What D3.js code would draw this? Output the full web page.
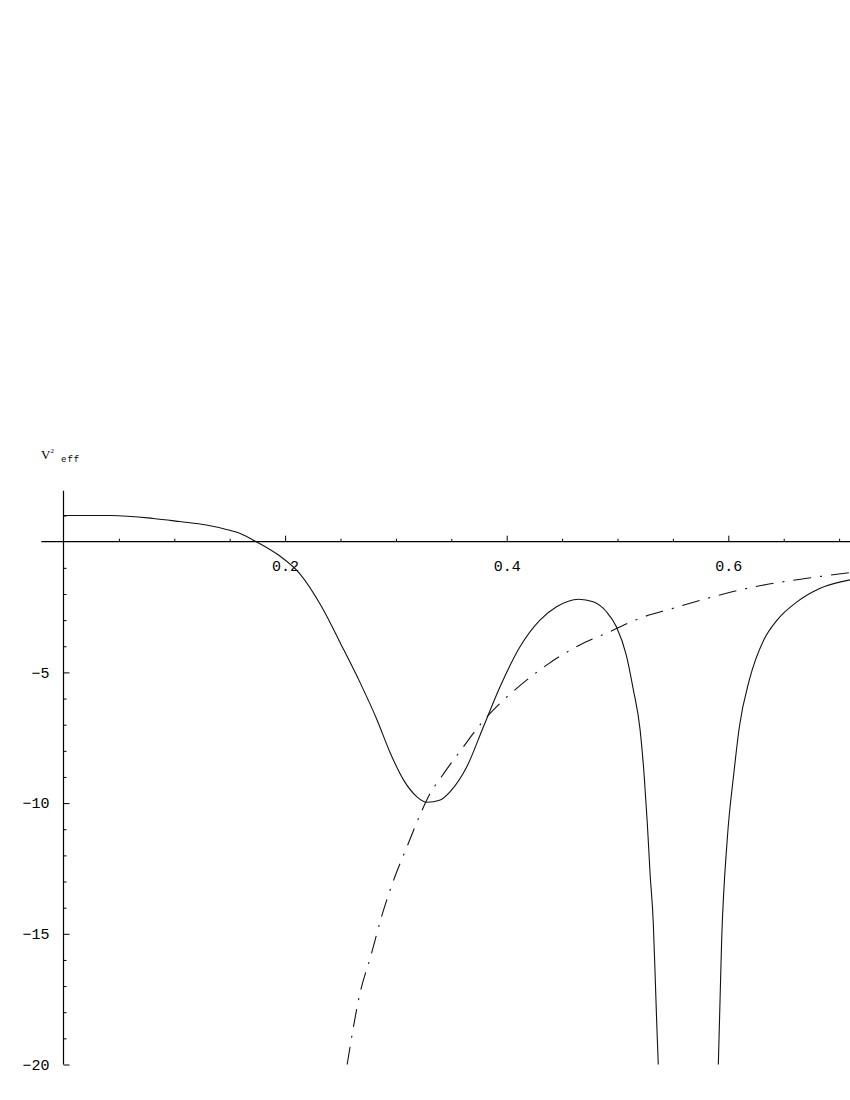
<!DOCTYPE html>
<html>
<head>
<meta charset="utf-8">
<script src="https://cdn.jsdelivr.net/npm/d3@7"></script>
<style>
  body { margin: 0; background: #fff; }
  .tick text { font-family: "Liberation Mono", "DejaVu Sans Mono", monospace; font-size: 15px; fill: #000; }
  .tick line { stroke: #000; }
  .curve { fill: none; stroke: #111; stroke-width: 1.1; }
</style>
</head>
<body>
<svg id="chart" width="850" height="1100"></svg>
<script>
// solid curve, left branch (runs down to the bottom of the frame)
var solidLeftX = [0, 0.043, 0.081, 0.105, 0.129, 0.147, 0.159, 0.174, 0.194, 0.213, 0.233, 0.250,
  0.268, 0.283, 0.295, 0.307, 0.319, 0.328, 0.340, 0.349, 0.364, 0.379, 0.394, 0.412, 0.430,
  0.445, 0.465, 0.478, 0.490, 0.499, 0.508, 0.514, 0.5204, 0.524, 0.5269, 0.5294, 0.5323,
  0.5339, 0.5354, 0.5368];
var solidLeftV = [1.0, 1.0, 0.89, 0.77, 0.64, 0.47, 0.32, 0.0, -0.51, -1.21, -2.49, -3.89,
  -5.42, -6.82, -8.09, -9.12, -9.76, -9.97, -9.88, -9.56, -8.61, -7.08, -5.55, -4.02, -3.00,
  -2.49, -2.20, -2.30, -2.68, -3.25, -4.35, -5.6, -7.2, -8.9, -10.77, -12.69, -14.6,
  -16.5, -18.4, -20];

// solid curve, right branch
var solidRightX = [0.591, 0.594, 0.599, 0.605, 0.610, 0.619, 0.632, 0.644, 0.662, 0.683, 0.710];
var solidRightV = [-20, -15.24, -11.41, -8.86, -7.08, -5.29, -3.76, -3.00, -2.30, -1.78, -1.46];

// dash-dot curve
var dashX = [0.256, 0.268, 0.277, 0.287, 0.298, 0.310, 0.323, 0.330, 0.341, 0.361, 0.377, 0.394,
  0.409, 0.436, 0.466, 0.490, 0.520, 0.550, 0.580, 0.610, 0.641, 0.671, 0.710];
var dashV = [-20, -17.2, -15.9, -14.35, -12.94, -11.67, -10.33, -9.7, -9.0, -7.84, -6.95, -6.18,
  -5.61, -4.72, -3.95, -3.50, -2.93, -2.55, -2.18, -1.85, -1.59, -1.40, -1.18];

// tick values
var xMajor = [0.2, 0.4, 0.6];
var xMinor = [0.05, 0.1, 0.15, 0.25, 0.3, 0.35, 0.45, 0.5, 0.55, 0.65, 0.7];
var yMajor = [-5, -10, -15, -20];
var yMinor = [1, -1, -2, -3, -4, -6, -7, -8, -9, -11, -12, -13, -14, -16, -17, -18, -19];

var svg = d3.select("#chart");

var x = d3.scaleLinear().domain([0, 0.7]).range([63.5, 839.1]);
var y = d3.scaleLinear().domain([-20, 0]).range([1064.5, 541.7]);

function zip(xs, vs){
  return xs.map(function(d, i){ return {x: d, v: vs[i]}; });
}

//Axis lines
svg.append("line")
  .attr("x1", x(-0.02)).attr("x2", x(0.711))
  .attr("y1", y(0)).attr("y2", y(0))
  .style("stroke", "#000").style("stroke-width", 1.2);

svg.append("line")
  .attr("x1", x(0)).attr("x2", x(0))
  .attr("y1", y(-20)).attr("y2", y(1.95))
  .style("stroke", "#000").style("stroke-width", 1.2);

//x ticks point up, labels below
svg.append("g")
  .attr("transform", "translate(0," + y(0) + ")")
  .call(d3.axisBottom(x).tickValues(xMinor).tickSize(-3).tickFormat(""))
  .call(function(g){ g.select(".domain").remove(); });

svg.append("g")
  .attr("transform", "translate(0," + y(0) + ")")
  .call(d3.axisBottom(x).tickValues(xMajor).tickSize(-6).tickPadding(19).tickFormat(d3.format(".1f")))
  .call(function(g){ g.select(".domain").remove(); });

//y ticks point right, labels on the left
svg.append("g")
  .attr("transform", "translate(" + x(0) + ",0)")
  .call(d3.axisLeft(y).tickValues(yMinor).tickSize(-3).tickFormat(""))
  .call(function(g){ g.select(".domain").remove(); });

svg.append("g")
  .attr("transform", "translate(" + x(0) + ",0)")
  .call(d3.axisLeft(y).tickValues(yMajor).tickSize(-6).tickPadding(14)
    .tickFormat(function(d){ return "\u2212" + Math.abs(d); }))
  .call(function(g){ g.select(".domain").remove(); });

svg.selectAll(".tick text").attr("fill", "#000");

//Axis label V^2_eff
var label = svg.append("text")
  .attr("x", 41)
  .attr("y", 459)
  .style("font-family", "Liberation Serif, serif")
  .style("font-size", "13px");
label.append("tspan").text("V");
label.append("tspan").attr("dy", -6).style("font-size", "7px").text("2");

svg.append("text")
  .attr("x", 61)
  .attr("y", 462)
  .style("font-family", "Liberation Mono, monospace")
  .style("font-size", "9px")
  .style("letter-spacing", "1px")
  .text("eff");

//Curves
var line = d3.line()
  .x(function(d){ return x(d.x); })
  .y(function(d){ return y(d.v); })
  .curve(d3.curveMonotoneX);

svg.append("path")
  .datum(zip(solidLeftX, solidLeftV))
  .attr("class", "curve")
  .attr("d", line);

svg.append("path")
  .datum(zip(solidRightX, solidRightV))
  .attr("class", "curve")
  .attr("d", line);

svg.append("path")
  .datum(zip(dashX, dashV))
  .attr("class", "curve")
  .style("stroke-dasharray", "18,9,2,9")
  .attr("d", line);
</script>
</body>
</html>
